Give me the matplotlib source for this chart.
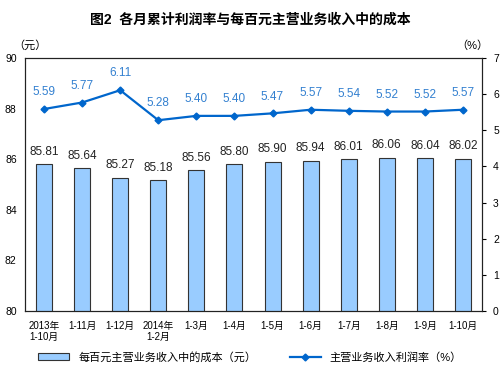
import numpy as np
import matplotlib.pyplot as plt

plt.rcParams['font.family'] = ['Liberation Sans', 'Noto Sans CJK SC', 'DejaVu Sans']

categories = ['2013年\n1-10月', '1-11月', '1-12月', '2014年\n1-2月', '1-3月', '1-4月',
              '1-5月', '1-6月', '1-7月', '1-8月', '1-9月', '1-10月']
cost = [85.81, 85.64, 85.27, 85.18, 85.56, 85.80, 85.90, 85.94, 86.01, 86.06, 86.04, 86.02]
rate = [5.59, 5.77, 6.11, 5.28, 5.40, 5.40, 5.47, 5.57, 5.54, 5.52, 5.52, 5.57]

fig = plt.figure(figsize=(5, 3.77), dpi=100)
ax = fig.add_axes([0.05, 0.175, 0.914, 0.671])
x = np.arange(len(categories))

bars = ax.bar(x, cost, width=0.42, color='#99CCFF', edgecolor='#333333', linewidth=0.8,
              label='每百元主营业务收入中的成本（元）')
ax.set_ylim(80, 90)
ax.set_yticks(range(80, 91, 2))
ax.set_xlim(-0.5, len(categories) - 0.5)
ax.set_xticks(x)
ax.set_xticklabels(categories, fontsize=7)
ax.tick_params(axis='x', length=0, pad=7)
ax.tick_params(axis='y', length=0, labelsize=7.5, pad=6)
for xi, v in zip(x, cost):
    ax.text(xi, v + 0.25, f'{v:.2f}', ha='center', va='bottom', fontsize=8.5, color='#222222')

ax2 = ax.twinx()
line, = ax2.plot(x, rate, color='#0066CC', marker='D', markersize=3.5, linewidth=1.6,
                 label='主营业务收入利润率（%）')
ax2.set_ylim(0, 7)
ax2.set_yticks(range(0, 8))
ax2.tick_params(axis='y', length=3, labelsize=7.5, pad=5)
for xi, v in zip(x, rate):
    ax2.text(xi, v + 0.3, f'{v:.2f}', ha='center', va='bottom', fontsize=8.5, color='#3380D0')

for a in (ax, ax2):
    for s in a.spines.values():
        s.set_color('#222222')
        s.set_linewidth(0.8)

fig.text(0.5, 0.948, '图2  各月累计利润率与每百元主营业务收入中的成本', ha='center', va='center',
         fontsize=10, fontweight='bold')
fig.text(0.06, 0.88, '（元）', ha='center', va='center', fontsize=8)
fig.text(0.945, 0.88, '（%）', ha='center', va='center', fontsize=8)

fig.legend([bars, line], ['每百元主营业务收入中的成本（元）', '主营业务收入利润率（%）'],
           loc='center', bbox_to_anchor=(0.5, 0.053), ncol=2, frameon=False, fontsize=8,
           handlelength=2.8, columnspacing=3)

fig.savefig('out.png', dpi=100)
